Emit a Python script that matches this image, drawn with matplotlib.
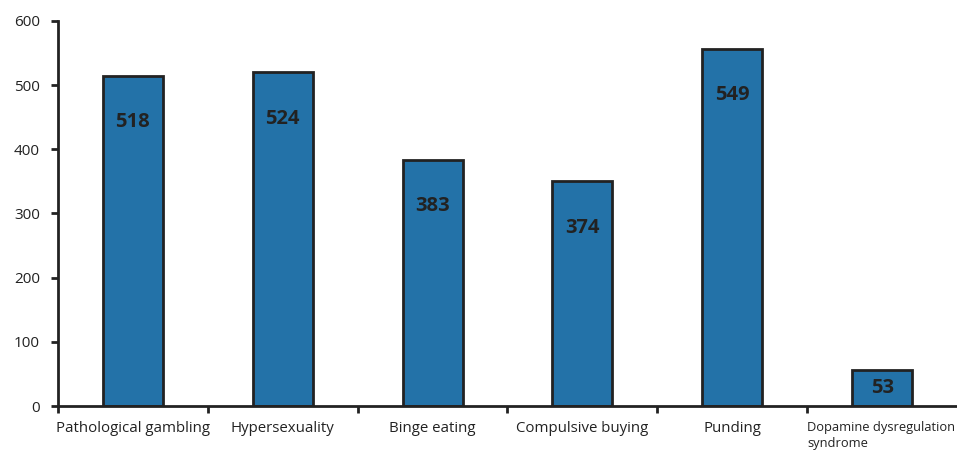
import numpy as np
import matplotlib.pyplot as plt

categories = ["Pathological gambling", "Hypersexuality", "Binge eating",
              "Compulsive buying", "Punding", "Dopamine dysregulation\nsyndrome"]
# bar heights as drawn, and the numbers printed on them
heights = [514, 520, 384, 350, 556, 56]
labels = ["518", "524", "383", "374", "549", "53"]

plt.rcParams['font.family'] = ['Open Sans', 'DejaVu Sans']

fig = plt.figure(figsize=(9.57, 4.53), dpi=100)
ax = fig.add_axes([58 / 957, 47 / 453, 1 - 58 / 957, 385 / 453])

x = np.arange(len(categories)) + 0.5
ax.bar(x, heights, width=0.4, color="#2372a8", edgecolor="#222222", linewidth=2, zorder=2)

for xi, h, lab in zip(x, heights, labels):
    y = h - 72 if h > 100 else h / 2
    ax.text(xi, y, lab, ha="center", va="center", fontsize=14.5, fontweight="bold", color="#222222")

ax.set_xlim(0, 6)
ax.set_ylim(0, 600)
ax.set_yticks(range(0, 601, 100))
ax.set_xticks(range(0, 6))
ax.set_xticklabels([])

for xi, cat in zip(x, categories):
    if "\n" in cat:
        ax.text(xi - 0.5, -0.04, cat, transform=ax.get_xaxis_transform(), ha="left", va="top",
                fontsize=9.3, color="#222222", linespacing=1.3)
    else:
        ax.text(xi, -0.04, cat, transform=ax.get_xaxis_transform(), ha="center", va="top",
                fontsize=10.8, color="#222222")

for s in ["top", "right"]:
    ax.spines[s].set_visible(False)
for s in ["left", "bottom"]:
    ax.spines[s].set_linewidth(2)
    ax.spines[s].set_color("#222222")
ax.tick_params(axis="both", direction="out", length=5, width=2, color="#222222", labelsize=11,
               labelcolor="#222222")
ax.tick_params(axis="y", pad=8)

fig.savefig("out.png", dpi=100)
